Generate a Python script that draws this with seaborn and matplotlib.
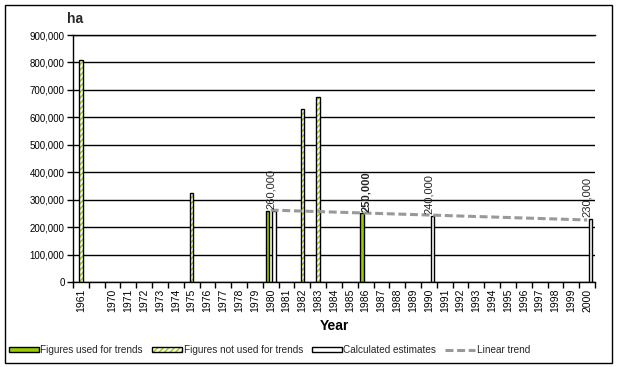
import matplotlib
matplotlib.use("Agg")
import matplotlib.pyplot as plt
import pandas as pd
import seaborn as sns
from matplotlib.patches import Patch, Rectangle
from matplotlib.lines import Line2D
from matplotlib.ticker import FuncFormatter

# categories on the x axis (blank slot between 1961 and 1970)
years = ['1961', ' '] + [str(y) for y in range(1970, 2001)]

series_names = ['Figures used for trends', 'Figures not used for trends', 'Calculated estimates']

used_years = ['1980', '1986']
used_values = [260000, 250000]
notused_years = ['1961', '1975', '1982', '1983']
notused_values = [808000, 323000, 630000, 673000]
calc_years = ['1980', '1990', '2000']
calc_values = [260000, 240000, 230000]

trend_years = ['1980', '2000']
trend_values = [262000, 226000]

label_years = ['1980', '1986', '1990', '2000']
label_values = [260000, 250000, 240000, 230000]

GREEN = '#99CC00'
GREY = '#999999'

rows = []
for name, ys, vs in zip(series_names,
                        [used_years, notused_years, calc_years],
                        [used_values, notused_values, calc_values]):
    for y, v in zip(ys, vs):
        rows.append({'year': y, 'series': name, 'value': v})
df = pd.DataFrame(rows)

sns.set_theme(style='white')
plt.rcParams['font.family'] = ['Liberation Sans', 'DejaVu Sans']
plt.rcParams['hatch.linewidth'] = 1.0

fig = plt.figure(figsize=(6.18, 3.67), dpi=100)
ax = fig.add_axes([73/618, 1-282/367, 522/618, 247/367])

sns.barplot(data=df, x='year', y='value', hue='series', order=years,
            hue_order=series_names, palette=[GREEN, 'white', 'white'],
            width=0.66, saturation=1, edgecolor='black', linewidth=1,
            errorbar=None, legend=False, ax=ax)

# hatched series: green diagonal hatch with a black outline on top
for bar in ax.containers[1]:
    bar.set_edgecolor(GREEN)
    bar.set_linewidth(0)
    bar.set_hatch('//////')
    ax.add_patch(Rectangle(bar.get_xy(), bar.get_width(), bar.get_height(),
                           fill=False, edgecolor='black', lw=1, zorder=bar.get_zorder()))

# linear trend
ax.plot([years.index(y) for y in trend_years], trend_values, color=GREY,
        ls=(0, (2.6, 1.2)), lw=2.2, zorder=5)

# data labels
for y, v in zip(label_years, label_values):
    ax.text(years.index(y), v + 6000, f'{v:,}', rotation=90, ha='center', va='bottom',
            fontsize=8, fontweight='bold' if y == '1986' else 'normal', zorder=6)

ax.set_ylim(0, 900000)
ax.set_yticks(range(0, 900001, 100000))
ax.yaxis.set_major_formatter(FuncFormatter(lambda x, p: f'{x:,.0f}'))
ax.yaxis.grid(True, color='black', lw=1)
ax.set_axisbelow(True)

ax.set_xlim(-0.5, len(years) - 0.5)
ax.set_xticks(range(len(years)))
ax.set_xticklabels(years, rotation=90)
ax.set_xticks([i - 0.5 for i in range(len(years) + 1)], minor=True)
ax.tick_params(axis='x', which='major', length=0, pad=5, labelsize=7.5, colors='black')
ax.tick_params(axis='x', which='minor', length=4, width=1, color='black', direction='out', bottom=True)
ax.tick_params(axis='y', length=4, width=1, color='black', direction='out', left=True,
               labelsize=7, pad=2, labelcolor='black')

for s in ['left', 'bottom', 'top']:
    ax.spines[s].set_color('black')
    ax.spines[s].set_linewidth(1)
ax.spines['right'].set_visible(False)

ax.set_xlabel('Year', fontsize=10, fontweight='bold', labelpad=5, color='black')
ax.set_ylabel('')
fig.text(67/618, 1-19/367, 'ha', fontsize=10, fontweight='bold', va='center', ha='left')

# legend
handles = [
    Patch(facecolor=GREEN, edgecolor='black', lw=1),
    (Patch(facecolor='white', edgecolor=GREEN, hatch='//////', lw=0),
     Patch(fill=False, edgecolor='black', lw=1)),
    Patch(facecolor='white', edgecolor='black', lw=1),
    Line2D([], [], color=GREY, ls=(0, (2.6, 1.2)), lw=2.2),
]
labels = series_names + ['Linear trend']
fig.legend(handles, labels, loc='center left', bbox_to_anchor=(9/618, 1-350/367),
           ncol=4, frameon=False, fontsize=7.2, handlelength=3.0,
           handleheight=0.5, handletextpad=0.15, columnspacing=0.9,
           borderaxespad=0, borderpad=0)

# outer frame
fig.patches.append(Rectangle((5/618, 1-363/367), 607/618, 358/367, transform=fig.transFigure,
                             fill=False, edgecolor='black', lw=1))

fig.savefig('out.png', dpi=100)
